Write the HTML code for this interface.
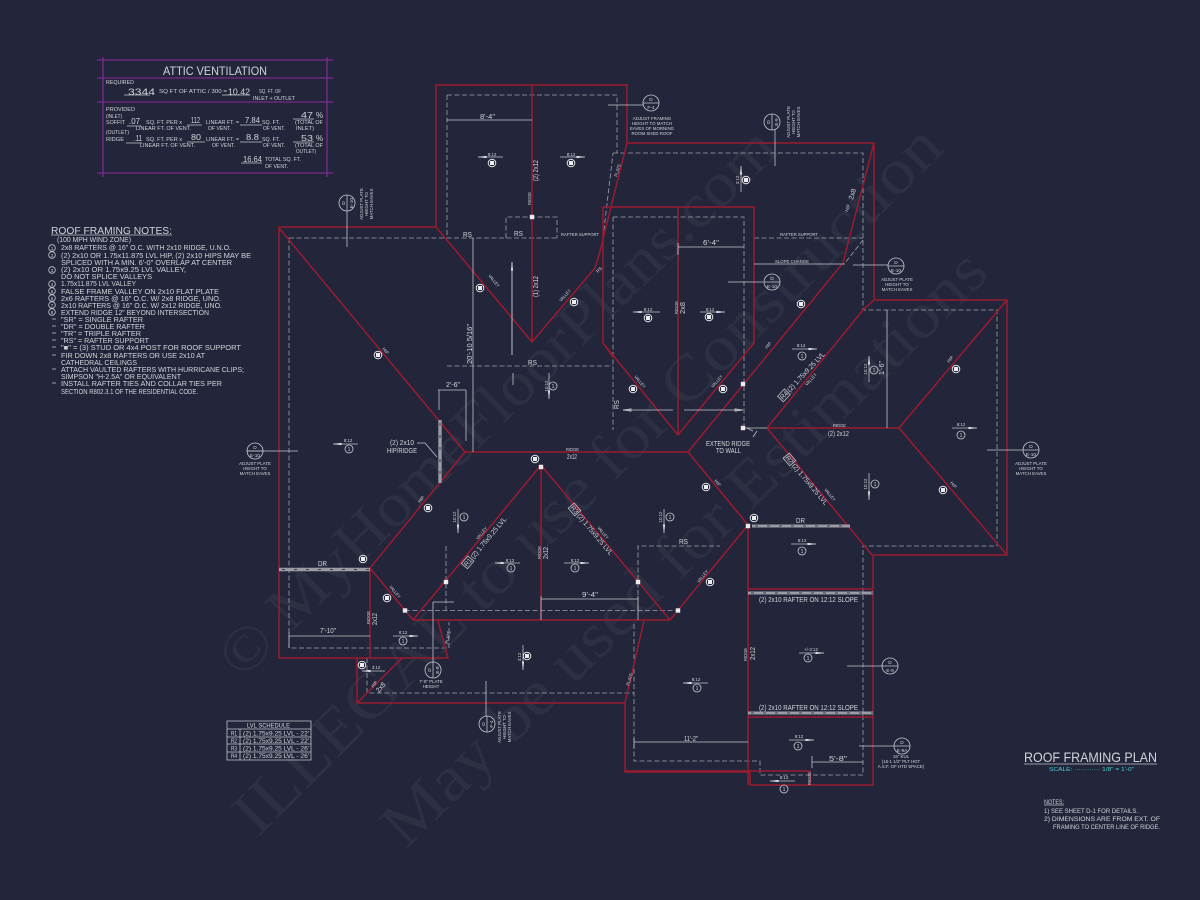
<!DOCTYPE html>
<html><head><meta charset="utf-8"><title>Roof Framing Plan</title>
<style>
html,body{margin:0;padding:0;background:#23263a}
svg{display:block;filter:blur(.3px)}
text{font-family:"Liberation Sans",sans-serif;fill:#d2d3da}
.r{stroke:#9a1b30;stroke-width:1.5;fill:none}
.w{stroke:#c2c3cc;stroke-width:.8;fill:none}
.d{stroke:#a0a1ac;stroke-width:.8;fill:none;stroke-dasharray:5 2.5}
.g{stroke:#9a9ba4;stroke-width:3.4;fill:none}
.gd{stroke:#3a3c4c;stroke-width:1;fill:none;stroke-dasharray:3 9}
.p{stroke:#8c2a9e;stroke-width:1.1;fill:none}
.t{font-size:4.4px;text-anchor:middle}
.s{font-size:5.4px}
.m{font-size:7px}
.n{font-size:7.2px}
.wm{font-family:"Liberation Serif",serif;fill:#fff;fill-opacity:.048}
.ci{stroke:#c8c9d0;stroke-width:.8;fill:none}
</style></head><body>
<svg xmlns="http://www.w3.org/2000/svg" width="1200" height="900" viewBox="0 0 1200 900">
<defs>
<marker id="a" markerWidth="9" markerHeight="5" refX="8.5" refY="2" orient="auto" markerUnits="userSpaceOnUse"><path d="M0 .9L9 2L0 3.1Z" fill="#e2e3e8"/></marker>
<g id="mk"><circle r="3.8" fill="none" stroke="#e5e6ea" stroke-width="1"/><rect x="-2" y="-2" width="4" height="4" fill="#eeeef0"/></g>
<rect id="sq" x="-2.2" y="-2.2" width="4.4" height="4.4" fill="#efe9e9"/>
</defs>
<rect width="1200" height="900" fill="#23263a"/>

<!-- watermark -->
<text class="wm" font-size="62" transform="translate(242 681) rotate(-44.5)" textLength="755" lengthAdjust="spacingAndGlyphs">© MyHomeFloorPlans.com</text>
<text class="wm" font-size="64" transform="translate(258 838) rotate(-45)" textLength="973" lengthAdjust="spacingAndGlyphs">ILLEGAL to use for Construction</text>
<text class="wm" font-size="64" transform="translate(406 850) rotate(-44.5)" textLength="820" lengthAdjust="spacingAndGlyphs">May be used for Estimations</text>

<!-- attic ventilation -->
<path class="p" d="M97 60H333M97 78H333M97 102H333M97 173H333M103 57V177M327 57V177"/>
<text x="163" y="75" font-size="12" textLength="104" lengthAdjust="spacingAndGlyphs">ATTIC VENTILATION</text>
<g class="s">
<text x="106" y="84" textLength="28" lengthAdjust="spacingAndGlyphs">REQUIRED</text>
<text x="128" y="95" style="font-size:9px" textLength="27" lengthAdjust="spacingAndGlyphs">3344</text>
<text x="159" y="93" textLength="68" lengthAdjust="spacingAndGlyphs">SQ FT OF ATTIC / 300 =</text>
<text x="228" y="95" style="font-size:9px" textLength="22" lengthAdjust="spacingAndGlyphs">10.42</text>
<text x="259" y="93" textLength="22" lengthAdjust="spacingAndGlyphs">SQ. FT. OF</text>
<text x="253" y="100" textLength="42" lengthAdjust="spacingAndGlyphs">INLET + OUTLET</text>
<text x="106" y="111" textLength="29" lengthAdjust="spacingAndGlyphs">PROVIDED</text>
<text x="106" y="118" textLength="16" lengthAdjust="spacingAndGlyphs">(INLET)</text>
<text x="106" y="124" textLength="19" lengthAdjust="spacingAndGlyphs">SOFFIT</text>
<text x="129" y="124" style="font-size:8px" textLength="11" lengthAdjust="spacingAndGlyphs">.07</text>
<text x="146" y="124" textLength="36" lengthAdjust="spacingAndGlyphs">SQ. FT. PER x</text>
<text x="136" y="130" textLength="55" lengthAdjust="spacingAndGlyphs">LINEAR FT. OF VENT.</text>
<text x="191" y="123" style="font-size:8px" textLength="9" lengthAdjust="spacingAndGlyphs">112</text>
<text x="206" y="124" textLength="33" lengthAdjust="spacingAndGlyphs">LINEAR FT. =</text>
<text x="208" y="130" textLength="23" lengthAdjust="spacingAndGlyphs">OF VENT.</text>
<text x="245" y="123" style="font-size:8px" textLength="15" lengthAdjust="spacingAndGlyphs">7.84</text>
<text x="262" y="124" textLength="18" lengthAdjust="spacingAndGlyphs">SQ. FT.</text>
<text x="263" y="130" textLength="22" lengthAdjust="spacingAndGlyphs">OF VENT.</text>
<text x="301" y="118" style="font-size:8px" textLength="12" lengthAdjust="spacingAndGlyphs">47</text>
<text x="316" y="118" style="font-size:8px">%</text>
<text x="295" y="124" textLength="28" lengthAdjust="spacingAndGlyphs">(TOTAL OF</text>
<text x="296" y="130" textLength="18" lengthAdjust="spacingAndGlyphs">INLET)</text>
<text x="106" y="134" textLength="23" lengthAdjust="spacingAndGlyphs">(OUTLET)</text>
<text x="106" y="141" textLength="18" lengthAdjust="spacingAndGlyphs">RIDGE</text>
<text x="134" y="141" style="font-size:8px" textLength="8" lengthAdjust="spacingAndGlyphs">.11</text>
<text x="146" y="141" textLength="36" lengthAdjust="spacingAndGlyphs">SQ. FT. PER x</text>
<text x="140" y="147" textLength="55" lengthAdjust="spacingAndGlyphs">LINEAR FT. OF VENT.</text>
<text x="191" y="140" style="font-size:8px" textLength="10" lengthAdjust="spacingAndGlyphs">80</text>
<text x="206" y="141" textLength="33" lengthAdjust="spacingAndGlyphs">LINEAR FT. =</text>
<text x="212" y="147" textLength="23" lengthAdjust="spacingAndGlyphs">OF VENT.</text>
<text x="246" y="140" style="font-size:8px" textLength="13" lengthAdjust="spacingAndGlyphs">8.8</text>
<text x="262" y="141" textLength="18" lengthAdjust="spacingAndGlyphs">SQ. FT.</text>
<text x="263" y="147" textLength="22" lengthAdjust="spacingAndGlyphs">OF VENT.</text>
<text x="301" y="141" style="font-size:8px" textLength="12" lengthAdjust="spacingAndGlyphs">53</text>
<text x="316" y="141" style="font-size:8px">%</text>
<text x="295" y="147" textLength="28" lengthAdjust="spacingAndGlyphs">(TOTAL OF</text>
<text x="296" y="153" textLength="20" lengthAdjust="spacingAndGlyphs">OUTLET)</text>
<text x="243" y="162" style="font-size:8px" textLength="19" lengthAdjust="spacingAndGlyphs">16.64</text>
<text x="265" y="161" textLength="36" lengthAdjust="spacingAndGlyphs">TOTAL  SQ. FT.</text>
<text x="265" y="168" textLength="23" lengthAdjust="spacingAndGlyphs">OF VENT.</text>
</g>
<path class="w" stroke-width=".6" d="M124 95H150M222 95H250M127 126H141M187 125H202M240 125H262M293 119H314M126 143H142M187 142H205M240 142H262M293 142H314M241 163H262"/>

<!-- notes -->
<text x="51" y="234" font-size="10" textLength="121" lengthAdjust="spacingAndGlyphs">ROOF FRAMING NOTES:</text>
<path class="w" d="M51 235H172"/>
<g class="n">
<text x="57" y="242" textLength="74" lengthAdjust="spacingAndGlyphs">(100 MPH WIND ZONE)</text>
<text x="61" y="250" textLength="170" lengthAdjust="spacingAndGlyphs">2x8 RAFTERS @ 16" O.C. WITH 2x10 RIDGE, U.N.O.</text>
<text x="61" y="258" textLength="190" lengthAdjust="spacingAndGlyphs">(2) 2x10 OR 1.75x11.875 LVL HIP, (2) 2x10 HIPS MAY BE</text>
<text x="61" y="265" textLength="171" lengthAdjust="spacingAndGlyphs">SPLICED WITH A MIN. 6'-0" OVERLAP AT CENTER</text>
<text x="61" y="272" textLength="125" lengthAdjust="spacingAndGlyphs">(2) 2x10 OR 1.75x9.25 LVL VALLEY,</text>
<text x="61" y="279" textLength="91" lengthAdjust="spacingAndGlyphs">DO NOT SPLICE VALLEYS</text>
<text x="61" y="286" textLength="75" lengthAdjust="spacingAndGlyphs">1.75x11.875 LVL VALLEY</text>
<text x="61" y="294" textLength="158" lengthAdjust="spacingAndGlyphs">FALSE FRAME VALLEY ON 2x10 FLAT PLATE</text>
<text x="61" y="301" textLength="160" lengthAdjust="spacingAndGlyphs">2x6 RAFTERS @ 16" O.C. W/ 2x8 RIDGE, UNO.</text>
<text x="61" y="308" textLength="161" lengthAdjust="spacingAndGlyphs">2x10 RAFTERS @ 16" O.C. W/ 2x12 RIDGE, UNO.</text>
<text x="61" y="315" textLength="148" lengthAdjust="spacingAndGlyphs">EXTEND RIDGE 12" BEYOND INTERSECTION</text>
<text x="61" y="322" textLength="82" lengthAdjust="spacingAndGlyphs">"SR" = SINGLE RAFTER</text>
<text x="61" y="329" textLength="84" lengthAdjust="spacingAndGlyphs">"DR" = DOUBLE RAFTER</text>
<text x="61" y="336" textLength="80" lengthAdjust="spacingAndGlyphs">"TR" = TRIPLE RAFTER</text>
<text x="61" y="343" textLength="88" lengthAdjust="spacingAndGlyphs">"RS" = RAFTER SUPPORT</text>
<text x="61" y="350" textLength="180" lengthAdjust="spacingAndGlyphs">"■" = (3) STUD OR 4x4 POST FOR ROOF SUPPORT</text>
<text x="61" y="358" textLength="144" lengthAdjust="spacingAndGlyphs">FIR DOWN 2x8 RAFTERS OR USE 2x10 AT</text>
<text x="61" y="365" textLength="76" lengthAdjust="spacingAndGlyphs">CATHEDRAL CEILINGS</text>
<text x="61" y="372" textLength="183" lengthAdjust="spacingAndGlyphs">ATTACH VAULTED RAFTERS WITH HURRICANE CLIPS;</text>
<text x="61" y="379" textLength="120" lengthAdjust="spacingAndGlyphs">SIMPSON "H-2.5A" OR EQUIVALENT</text>
<text x="61" y="386" textLength="161" lengthAdjust="spacingAndGlyphs">INSTALL RAFTER TIES AND COLLAR TIES PER</text>
<text x="61" y="394" textLength="137" lengthAdjust="spacingAndGlyphs">SECTION R802.3.1 OF THE RESIDENTIAL CODE.</text>
</g>
<path class="w" d="M52 319H56M52 326H56M52 333H56M52 340H56M52 347H56M52 355H56M52 369H56M52 383H56"/>
<g class="ci"><circle cx="52" cy="248" r="3.3"/><circle cx="52" cy="255" r="3.3"/><circle cx="52" cy="270" r="3.3"/><circle cx="52" cy="284" r="3.3"/><circle cx="52" cy="291" r="3.3"/><circle cx="52" cy="298" r="3.3"/><circle cx="52" cy="305" r="3.3"/><circle cx="52" cy="312" r="3.3"/></g>
<g class="t" style="font-size:4.6px"><text x="52" y="250">1</text><text x="52" y="257">2</text><text x="52" y="272">3</text><text x="52" y="286">4</text><text x="52" y="293">5</text><text x="52" y="300">6</text><text x="52" y="307">7</text><text x="52" y="314">8</text></g>

<!-- dashed framing -->
<path class="d" d="M447 95H617V153H613M447 95V238M289 238H557M506 238V217H557V238M603 238L613 153M289 238V648H449V622M447 366H613M613 217H744V428M613 217V430M613 153H863V310H997V546H863V775H760V761H634V622M754 238H863M863 240L845 263M367 658V693H634M405 610.5H678M446 546V610M638 610V546H720"/>

<!-- red roof lines -->
<path class="r" d="M627 143V85H436V227H279V658H448L438 621M436 227L532 342L595 268L599 255L627 143H874V300H1007V555H873V785H750V772M625 771H810V785M750 772H625V703L644 621M279 228L465 452H688L843 263L848 243L874 143M465 452L370 568V658M370 568L413 620H670M413 620L541 465L670 620L748 525L688 452M541 465V620M532 85V342M603 343V207H754V343L678 435L603 343M678 207V435M603 343L613 357M767 428H899L1007 300M899 428L1007 555M767 428L872 555M767 428L863 310L874 300M748 525V785M748 589H873M748 717H873M357 703V658M357 703H623L625 703M357 703L402 658"/>
<path class="g" d="M279 569.5H370M440 420V483"/>
<path class="g" style="stroke-width:3" d="M752 526H850M748 593H873M748 713H873"/>
<path class="gd" d="M282 569.5H370M440 423V483M755 526H850M751 593H873M751 713H873"/>

<!-- dimensions -->
<path class="w" d="M447 120H532M473 238V452M512 262V355M438 390H466M439 390V410M466 390V441M417 443H425L437 457M289 636H370M289 632V648M541 599H638M541 596V620M638 596V620M678 247H744M678 243V255M634 742H748M634 738V748M812 762H863M812 756V768M887 310V428M754 264H845M746 428H767M623 410H673M684 410H743"/>
<path class="w" d="M623 410L631 408.8V411.2ZM743 410L735 408.8V411.2Z" fill="#e2e3e8"/>
<path class="w" marker-end="url(#a)" d="M512 355V262"/>
<path class="w" d="M513 373V385"/>
<path class="w" d="M753 431L747 428H743M753 437L757 431"/>

<!-- dimension text -->
<g class="m">
<text x="480" y="119" textLength="15" lengthAdjust="spacingAndGlyphs">8'-4"</text>
<text x="703" y="245" textLength="16" lengthAdjust="spacingAndGlyphs">6'-4"</text>
<text x="320" y="633" textLength="16" lengthAdjust="spacingAndGlyphs">7'-10"</text>
<text x="582" y="597" textLength="16" lengthAdjust="spacingAndGlyphs">9'-4"</text>
<text x="684" y="741" textLength="14" lengthAdjust="spacingAndGlyphs">11'-2"</text>
<text x="829" y="761" textLength="18" lengthAdjust="spacingAndGlyphs">5'-8"</text>
<text x="446" y="387" textLength="14" lengthAdjust="spacingAndGlyphs">2'-6"</text>
<text transform="translate(472 364) rotate(-90)" textLength="40" lengthAdjust="spacingAndGlyphs">20'-10 5/16"</text>
<text transform="translate(884 375) rotate(-90)" textLength="14" lengthAdjust="spacingAndGlyphs">1'-6"</text>
<text x="390" y="445" textLength="24" lengthAdjust="spacingAndGlyphs">(2) 2x10</text>
<text x="387" y="453" textLength="30" lengthAdjust="spacingAndGlyphs">HIP/RIDGE</text>
<text x="463" y="237" textLength="9" lengthAdjust="spacingAndGlyphs">RS</text>
<text x="514" y="236" textLength="9" lengthAdjust="spacingAndGlyphs">RS</text>
<text x="528" y="365" textLength="9" lengthAdjust="spacingAndGlyphs">RS</text>
<text x="679" y="544" textLength="9" lengthAdjust="spacingAndGlyphs">RS</text>
<text transform="translate(619 409) rotate(-90)" textLength="9" lengthAdjust="spacingAndGlyphs">RS</text>
<text x="318" y="566" textLength="9" lengthAdjust="spacingAndGlyphs">DR</text>
<text x="796" y="523" textLength="9" lengthAdjust="spacingAndGlyphs">DR</text>
<text x="706" y="446" textLength="44" lengthAdjust="spacingAndGlyphs">EXTEND RIDGE</text>
<text x="716" y="453" textLength="25" lengthAdjust="spacingAndGlyphs">TO WALL</text>
<text x="759" y="602" textLength="99" lengthAdjust="spacingAndGlyphs">(2) 2x10 RAFTER ON 12:12 SLOPE</text>
<text x="759" y="710" textLength="99" lengthAdjust="spacingAndGlyphs">(2) 2x10 RAFTER ON 12:12 SLOPE</text>
<text x="828" y="436" textLength="21" lengthAdjust="spacingAndGlyphs">(2) 2x12</text>
<text x="567" y="459" textLength="10" lengthAdjust="spacingAndGlyphs">2x12</text>
<text transform="translate(538 181) rotate(-90)" textLength="21" lengthAdjust="spacingAndGlyphs">(2) 2x12</text>
<text transform="translate(538 297) rotate(-90)" textLength="21" lengthAdjust="spacingAndGlyphs">(1) 2x12</text>
<text transform="translate(685 314) rotate(-90)" textLength="12" lengthAdjust="spacingAndGlyphs">2x8</text>
<text transform="translate(548 559) rotate(-90)" textLength="12" lengthAdjust="spacingAndGlyphs">2x12</text>
<text transform="translate(377 625) rotate(-90)" textLength="12" lengthAdjust="spacingAndGlyphs">2x12</text>
<text transform="translate(755 660) rotate(-90)" textLength="13" lengthAdjust="spacingAndGlyphs">2x12</text>
<text transform="translate(853 200) rotate(-74)" textLength="11" lengthAdjust="spacingAndGlyphs">2x8</text>
<text transform="translate(379 693) rotate(-50)" textLength="11" lengthAdjust="spacingAndGlyphs">2x8</text>
<text transform="translate(467 567) rotate(-50)" textLength="62" lengthAdjust="spacingAndGlyphs">R1 (2) 1.75x9.25 LVL</text>
<text transform="translate(570 508) rotate(50)" textLength="62" lengthAdjust="spacingAndGlyphs">R3 (2) 1.75x9.25 LVL</text>
<text transform="translate(783 400) rotate(-47)" textLength="62" lengthAdjust="spacingAndGlyphs">R4 (2) 1.75x9.25 LVL</text>
<text transform="translate(785 458) rotate(50)" textLength="62" lengthAdjust="spacingAndGlyphs">R2 (2) 1.75x9.25 LVL</text>
</g>
<g class="w" stroke-width=".6">
<rect x="-1" y="-6.5" width="10" height="8" transform="translate(467 567) rotate(-50)"/>
<rect x="-1" y="-6.5" width="10" height="8" transform="translate(570 508) rotate(50)"/>
<rect x="-1" y="-6.5" width="10" height="8" transform="translate(783 400) rotate(-47)"/>
<rect x="-1" y="-6.5" width="10" height="8" transform="translate(785 458) rotate(50)"/>
</g>

<!-- small labels -->
<g style="font-size:4.4px">
<text x="561" y="236" textLength="38" lengthAdjust="spacingAndGlyphs">RAFTER SUPPORT</text>
<text x="780" y="236" textLength="38" lengthAdjust="spacingAndGlyphs">RAFTER SUPPORT</text>
<text x="775" y="263" textLength="34" lengthAdjust="spacingAndGlyphs">SLOPE CHANGE</text>
<text x="566" y="451" textLength="13" lengthAdjust="spacingAndGlyphs">RIDGE</text>
<text x="833" y="427" textLength="13" lengthAdjust="spacingAndGlyphs">RIDGE</text>
<text transform="translate(531 205) rotate(-90)" textLength="13" lengthAdjust="spacingAndGlyphs">RIDGE</text>
<text transform="translate(678 314) rotate(-90)" textLength="13" lengthAdjust="spacingAndGlyphs">RIDGE</text>
<text transform="translate(541 559) rotate(-90)" textLength="13" lengthAdjust="spacingAndGlyphs">RIDGE</text>
<text transform="translate(370 624) rotate(-90)" textLength="13" lengthAdjust="spacingAndGlyphs">RIDGE</text>
<text transform="translate(747 661) rotate(-90)" textLength="13" lengthAdjust="spacingAndGlyphs">RIDGE</text>
<text transform="translate(811 785) rotate(-90)" textLength="13" lengthAdjust="spacingAndGlyphs">RIDGE</text>
<text transform="translate(617 177) rotate(-72)" textLength="13" lengthAdjust="spacingAndGlyphs">PLATE</text>
<text transform="translate(448 644) rotate(-78)" textLength="13" lengthAdjust="spacingAndGlyphs">PLATE</text>
<text transform="translate(629 686) rotate(-72)" textLength="13" lengthAdjust="spacingAndGlyphs">PLATE</text>
<text transform="translate(488 276) rotate(50)" textLength="15" lengthAdjust="spacingAndGlyphs">VALLEY</text>
<text transform="translate(561 302) rotate(-47)" textLength="15" lengthAdjust="spacingAndGlyphs">VALLEY</text>
<text transform="translate(634 377) rotate(50)" textLength="15" lengthAdjust="spacingAndGlyphs">VALLEY</text>
<text transform="translate(713 388) rotate(-48)" textLength="15" lengthAdjust="spacingAndGlyphs">VALLEY</text>
<text transform="translate(389 587) rotate(50)" textLength="15" lengthAdjust="spacingAndGlyphs">VALLEY</text>
<text transform="translate(478 540) rotate(-50)" textLength="15" lengthAdjust="spacingAndGlyphs">VALLEY</text>
<text transform="translate(597 528) rotate(50)" textLength="15" lengthAdjust="spacingAndGlyphs">VALLEY</text>
<text transform="translate(699 583) rotate(-50)" textLength="15" lengthAdjust="spacingAndGlyphs">VALLEY</text>
<text transform="translate(807 386) rotate(-48)" textLength="15" lengthAdjust="spacingAndGlyphs">VALLEY</text>
<text transform="translate(824 490) rotate(50)" textLength="15" lengthAdjust="spacingAndGlyphs">VALLEY</text>
<text transform="translate(382 349) rotate(50)">HIP</text>
<text transform="translate(420 503) rotate(-50)">HIP</text>
<text transform="translate(714 481) rotate(50)">HIP</text>
<text transform="translate(950 483) rotate(50)">HIP</text>
<text transform="translate(767 349) rotate(-50)">HIP</text>
<text transform="translate(949 363) rotate(-50)">HIP</text>
<text transform="translate(848 212) rotate(-74)">HIP</text>
<text transform="translate(373 688) rotate(-50)">HIP</text>
<text transform="translate(598 273) rotate(-45)">RS</text>
</g>

<!-- slope arrows -->
<g class="w">
<path marker-end="url(#a)" d="M503 157H478"/><path marker-end="url(#a)" d="M560 157H585"/>
<path marker-end="url(#a)" d="M660 312H633"/><path marker-end="url(#a)" d="M700 312H725"/>
<path marker-end="url(#a)" d="M741 192V166"/><path marker-end="url(#a)" d="M792 349H817"/><path marker-end="url(#a)" d="M869 382V356"/>
<path marker-end="url(#a)" d="M549 373V399"/><path marker-end="url(#a)" d="M358 444H333"/>
<path marker-end="url(#a)" d="M458 509V533"/><path marker-end="url(#a)" d="M520 563H495"/><path marker-end="url(#a)" d="M564 563H589"/>
<path marker-end="url(#a)" d="M664 509V533"/><path marker-end="url(#a)" d="M393 636H418"/><path marker-end="url(#a)" d="M523 645V670"/>
<path marker-end="url(#a)" d="M385 671H362"/><path marker-end="url(#a)" d="M791 544H816"/><path marker-end="url(#a)" d="M869 473V500"/>
<path marker-end="url(#a)" d="M952 428H977"/><path marker-end="url(#a)" d="M799 653H824"/><path marker-end="url(#a)" d="M708 683H683"/>
<path marker-end="url(#a)" d="M789 740H814"/><path marker-end="url(#a)" d="M795 781H770"/>
</g>
<g class="t">
<text x="492" y="156">8:12</text><text x="571" y="156">8:12</text><text x="648" y="311">8:12</text><text x="710" y="311">8:12</text>
<text x="801" y="347">8:12</text><text x="348" y="442">8:12</text><text x="510" y="562">8:12</text><text x="575" y="562">8:12</text>
<text x="403" y="634">8:12</text><text x="376" y="669">3:12</text><text x="802" y="542">8:12</text><text x="961" y="426">8:12</text>
<text x="811" y="651">+/-3:12</text><text x="696" y="681">8:12</text><text x="799" y="738">8:12</text><text x="784" y="779">8:12</text>
<text transform="translate(739 180) rotate(-90)">3:12</text><text transform="translate(867 369) rotate(-90)">10:12</text>
<text transform="translate(548 386) rotate(-90)">10:12</text><text transform="translate(456 517) rotate(-90)">10:12</text>
<text transform="translate(662 517) rotate(-90)">10:12</text><text transform="translate(521 657) rotate(-90)">3:12</text>
<text transform="translate(867 484) rotate(-90)">10:12</text>
</g>
<!-- circled ones -->
<g class="ci">
<circle cx="802" cy="356" r="4"/><circle cx="874" cy="370" r="4"/><circle cx="553" cy="386" r="4"/><circle cx="349" cy="449" r="4"/>
<circle cx="464" cy="517" r="4"/><circle cx="511" cy="568" r="4"/><circle cx="575" cy="568" r="4"/><circle cx="670" cy="517" r="4"/>
<circle cx="403" cy="641" r="4"/><circle cx="802" cy="551" r="4"/><circle cx="875" cy="484" r="4"/><circle cx="961" cy="435" r="4"/>
<circle cx="808" cy="658" r="4"/><circle cx="697" cy="688" r="4"/><circle cx="798" cy="746" r="4"/><circle cx="784" cy="789" r="4"/>
</g>
<g class="t" style="font-size:5px">
<text x="802" y="358">1</text><text x="874" y="372">1</text><text x="553" y="388">1</text><text x="349" y="451">1</text>
<text x="464" y="519">1</text><text x="511" y="570">1</text><text x="575" y="570">1</text><text x="670" y="519">1</text>
<text x="403" y="643">1</text><text x="802" y="553">1</text><text x="875" y="486">1</text><text x="961" y="437">1</text>
<text x="808" y="660">1</text><text x="697" y="690">1</text><text x="798" y="748">1</text><text x="784" y="791">1</text>
</g>
<!-- rafter markers -->
<use href="#mk" x="492" y="163"/><use href="#mk" x="571" y="163"/><use href="#mk" x="648" y="318"/><use href="#mk" x="709" y="317"/>
<use href="#mk" x="746" y="180"/><use href="#mk" x="801" y="304"/><use href="#mk" x="956" y="369"/><use href="#mk" x="480" y="288"/>
<use href="#mk" x="574" y="302"/><use href="#mk" x="378" y="355"/><use href="#mk" x="633" y="389"/><use href="#mk" x="723" y="389"/>
<use href="#mk" x="428" y="508"/><use href="#mk" x="363" y="559"/><use href="#mk" x="387" y="598"/><use href="#mk" x="535" y="459"/>
<use href="#mk" x="527" y="656"/><use href="#mk" x="362" y="665"/><use href="#mk" x="706" y="487"/><use href="#mk" x="754" y="518"/>
<use href="#mk" x="710" y="582"/><use href="#mk" x="943" y="490"/>
<!-- posts -->
<use href="#sq" x="532" y="217"/><use href="#sq" x="743" y="384"/><use href="#sq" x="743" y="428"/><use href="#sq" x="541" y="467"/>
<use href="#sq" x="748" y="526"/><use href="#sq" x="446" y="582"/><use href="#sq" x="638" y="582"/><use href="#sq" x="405" y="610.5"/><use href="#sq" x="678" y="610.5"/>

<!-- section callouts -->
<g class="w">
<path d="M608 105H643M347 211V247M247 451H298M987 450H1023M775 130V166M853 265H888M728 282H763M847 666H882M859 746H894M486 681V716M433 602V662M433 602H454"/>
</g>
<g class="ci">
<circle cx="651" cy="103" r="8"/><circle cx="347" cy="203" r="8"/><circle cx="255" cy="451" r="8"/><circle cx="1031" cy="450" r="8"/><circle cx="772" cy="122" r="8"/>
<circle cx="896" cy="266" r="8"/><circle cx="772" cy="282" r="8"/><circle cx="890" cy="666" r="8"/><circle cx="902" cy="746" r="8"/><circle cx="433" cy="670" r="8"/><circle cx="487" cy="724" r="8"/>
</g>
<path class="w" d="M643 103H659M347 195V211M247 451H263M1023 450H1039M772 114V130M888 266H904M764 282H780M882 666H898M894 746H910M433 662V678M487 716V732"/>
<g class="t" style="font-size:4.8px">
<text x="651" y="101">D</text><text x="651" y="109">F-4</text><text x="255" y="449">D</text><text x="255" y="457">E-10</text><text x="1031" y="448">D</text><text x="1031" y="456">E-10</text>
<text x="896" y="264">D</text><text x="896" y="272">E-10</text><text x="772" y="280">D</text><text x="772" y="288">E-10</text><text x="890" y="664">D</text><text x="890" y="672">E-9</text>
<text x="902" y="744">D</text><text x="902" y="752">E-9A</text>
<text transform="translate(345 203) rotate(-90)">D</text><text transform="translate(353 203) rotate(-90)">E-10</text>
<text transform="translate(770 122) rotate(-90)">D</text><text transform="translate(778 122) rotate(-90)">E-9</text>
<text transform="translate(431 670) rotate(-90)">D</text><text transform="translate(439 670) rotate(-90)">E-8</text>
<text transform="translate(485 724) rotate(-90)">D</text><text transform="translate(493 724) rotate(-90)">F-4</text>
</g>
<g class="t" style="font-size:4.4px">
<text x="652" y="120">ADJUST FRAMING</text><text x="652" y="125">HEIGHT TO MATCH</text><text x="652" y="130">EAVES OF MORNING</text><text x="652" y="135">ROOM SHED ROOF</text>
<text x="255" y="465">ADJUST PLATE</text><text x="255" y="470">HEIGHT TO</text><text x="255" y="475">MATCH EAVES</text>
<text x="1031" y="465">ADJUST PLATE</text><text x="1031" y="470">HEIGHT TO</text><text x="1031" y="475">MATCH EAVES</text>
<text x="897" y="281">ADJUST PLATE</text><text x="897" y="286">HEIGHT TO</text><text x="897" y="291">MATCH EAVES</text>
<text x="431" y="683">7'-8" PLATE</text><text x="431" y="688">HEIGHT</text>
<text x="901" y="758">16" KUL</text><text x="901" y="763">(15-1 1/2" PLT HGT</text><text x="901" y="768">A.S.F. OF HTD SPACE)</text>
<text transform="translate(363 204) rotate(-90)">ADJUST PLATE</text><text transform="translate(368 204) rotate(-90)">HEIGHT TO</text><text transform="translate(373 204) rotate(-90)">MATCH EAVES</text>
<text transform="translate(790 122) rotate(-90)">ADJUST PLATE</text><text transform="translate(795 122) rotate(-90)">HEIGHT TO</text><text transform="translate(800 122) rotate(-90)">MATCH EAVES</text>
<text transform="translate(501 727) rotate(-90)">ADJUST PLATE</text><text transform="translate(506 727) rotate(-90)">HEIGHT TO</text><text transform="translate(511 727) rotate(-90)">MATCH EAVES</text>
</g>

<!-- LVL schedule -->
<path class="w" stroke-width=".7" d="M227 721H311V760H227ZM227 729H311M227 737H311M227 744H311M227 752H311M240 729V760"/>
<g style="font-size:6.2px">
<text x="247" y="727.5" textLength="43" lengthAdjust="spacingAndGlyphs">LVL SCHEDULE</text>
<text x="231" y="735.5" textLength="6" lengthAdjust="spacingAndGlyphs">R1</text><text x="243" y="735.5" textLength="66" lengthAdjust="spacingAndGlyphs">(2) 1.75x9.25 LVL - 22'</text>
<text x="231" y="743" textLength="6" lengthAdjust="spacingAndGlyphs">R2</text><text x="243" y="743" textLength="66" lengthAdjust="spacingAndGlyphs">(2) 1.75x9.25 LVL - 22'</text>
<text x="231" y="750.5" textLength="6" lengthAdjust="spacingAndGlyphs">R3</text><text x="243" y="750.5" textLength="66" lengthAdjust="spacingAndGlyphs">(2) 1.75x9.25 LVL - 26'</text>
<text x="231" y="758" textLength="6" lengthAdjust="spacingAndGlyphs">R4</text><text x="243" y="758" textLength="66" lengthAdjust="spacingAndGlyphs">(2) 1.75x9.25 LVL - 26'</text>
</g>

<!-- title block -->
<text x="1024" y="762" font-size="14" textLength="133" lengthAdjust="spacingAndGlyphs">ROOF FRAMING PLAN</text>
<path class="w" d="M1024 764H1157"/>
<text x="1049" y="771" font-size="5.4" style="fill:#45d3d6" textLength="85" lengthAdjust="spacingAndGlyphs">SCALE: ············ 1/8" = 1'-0"</text>
<g style="font-size:6.4px">
<text x="1044" y="804" textLength="20" lengthAdjust="spacingAndGlyphs">NOTES:</text>
<text x="1044" y="813" textLength="94" lengthAdjust="spacingAndGlyphs">1)  SEE SHEET D-1 FOR DETAILS.</text>
<text x="1044" y="821" textLength="116" lengthAdjust="spacingAndGlyphs">2)  DIMENSIONS ARE FROM EXT. OF</text>
<text x="1053" y="829" textLength="107" lengthAdjust="spacingAndGlyphs">FRAMING TO CENTER LINE OF RIDGE.</text>
</g>
<path class="w" stroke-width=".5" d="M1044 805H1064"/>
</svg>
</body></html>
